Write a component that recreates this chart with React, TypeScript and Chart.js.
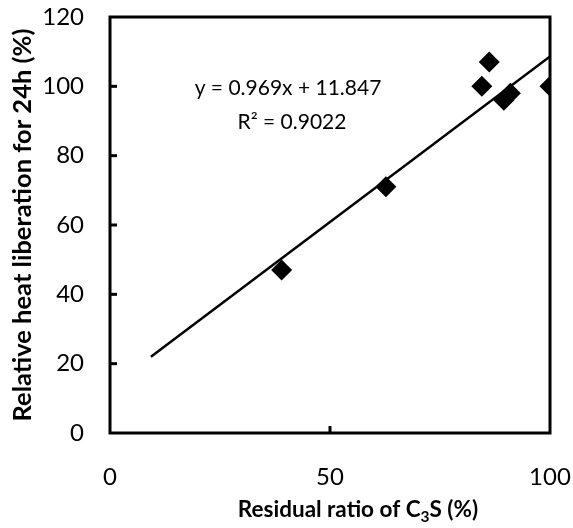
import React, { useEffect, useRef } from "react";
import { Chart, registerables } from "chart.js";

Chart.register(...registerables);

const residualC3S = [39, 62.7, 84.5, 86.2, 89.5, 91, 100];
const relativeHeat = [47, 71, 100, 107, 96, 98, 100];
const trendX = [9.3, 100];
const trendY = [22, 108.6];
const yTicks = [0, 20, 40, 60, 80, 100, 120];
const xTicks = [0, 50, 100];
const equationText = "y = 0.969x + 11.847";
const r2Text = "R² = 0.9022";
const yTitle = "Relative heat liberation for 24h (%)";
const xTitleParts = ["Residual ratio of C", "3", "S (%)"];

const FONT = "Lato";

const zeroPad = (s: any) => {
  s.paddingTop = 0;
  s.paddingBottom = 0;
  s.paddingLeft = 0;
  s.paddingRight = 0;
};

const framePlugin = {
  id: "frame",
  afterDatasetsDraw(chart: any) {
    const { ctx, chartArea: a, scales } = chart;
    ctx.save();
    ctx.strokeStyle = "#000";
    ctx.lineWidth = 3;
    ctx.strokeRect(a.left, a.top, a.right - a.left, a.bottom - a.top);
    yTicks.forEach((v) => {
      if (v === 0 || v === 120) return;
      const y = scales.y.getPixelForValue(v);
      ctx.beginPath();
      ctx.moveTo(a.left, y);
      ctx.lineTo(a.left + 7, y);
      ctx.stroke();
    });
    xTicks.forEach((v) => {
      if (v === 0 || v === 100) return;
      const x = scales.x.getPixelForValue(v);
      ctx.beginPath();
      ctx.moveTo(x, a.bottom);
      ctx.lineTo(x, a.bottom - 7);
      ctx.stroke();
    });
    ctx.fillStyle = "#000";
    ctx.font = `21px ${FONT}`;
    ctx.textAlign = "center";
    ctx.textBaseline = "middle";
    ctx.fillText(equationText, 288, 88);
    ctx.fillText(r2Text, 292, 122);
    // x title with subscript
    const big = `bold 22.5px ${FONT}`;
    const small = `bold 15.5px ${FONT}`;
    ctx.font = big;
    const w1 = ctx.measureText(xTitleParts[0]).width;
    const w2 = ctx.measureText(xTitleParts[2]).width;
    ctx.font = small;
    const ws = ctx.measureText(xTitleParts[1]).width;
    let x = 358 - (w1 + ws + w2) / 2;
    const yb = 510;
    ctx.textAlign = "left";
    ctx.font = big;
    ctx.fillText(xTitleParts[0], x, yb);
    x += w1;
    ctx.font = small;
    ctx.fillText(xTitleParts[1], x, yb + 7);
    x += ws;
    ctx.font = big;
    ctx.fillText(xTitleParts[2], x, yb);
    ctx.restore();
  },
};

export default function App() {
  const ref = useRef<HTMLCanvasElement>(null);
  useEffect(() => {
    if (!ref.current) return;
    const chart = new Chart(ref.current, {
      type: "scatter",
      data: {
        datasets: [
          {
            label: "data",
            data: residualC3S.map((x, i) => ({ x, y: relativeHeat[i] })),
            pointStyle: "rectRot",
            pointRadius: 10.5,
            backgroundColor: "#000",
            borderColor: "#000",
            borderWidth: 0,
          },
          {
            label: "trend",
            type: "line",
            data: trendX.map((x, i) => ({ x, y: trendY[i] })),
            borderColor: "#000",
            borderWidth: 2.5,
            pointRadius: 0,
            fill: false,
          } as any,
        ],
      },
      options: {
        animation: false,
        responsive: false,
        layout: { padding: { top: 17, right: 23, left: 0, bottom: 0 } },
        plugins: {
          legend: { display: false },
          tooltip: { enabled: false },
        },
        scales: {
          x: {
            type: "linear",
            min: 0,
            max: 100,
            afterBuildTicks: (s: any) => {
              s.ticks = xTicks.map((v) => ({ value: v }));
            },
            afterFit: (s: any) => {
              s.height = 95;
              zeroPad(s);
            },
            grid: { display: false, drawTicks: false },
            border: { display: false },
            ticks: {
              padding: 30,
              color: "#000",
              maxRotation: 0,
              font: { family: FONT, size: 24 },
            },
          },
          y: {
            type: "linear",
            min: 0,
            max: 120,
            afterBuildTicks: (s: any) => {
              s.ticks = yTicks.map((v) => ({ value: v }));
            },
            afterFit: (s: any) => {
              s.width = 110;
              zeroPad(s);
            },
            grid: { display: false, drawTicks: false },
            border: { display: false },
            ticks: {
              padding: 26,
              color: "#000",
              font: { family: FONT, size: 24 },
            },
            title: {
              display: true,
              text: yTitle,
              color: "#000",
              font: { family: FONT, size: 25.5, weight: "bold" },
              padding: { top: 7, bottom: 0 },
            },
          },
        },
      },
      plugins: [framePlugin],
    });
    return () => chart.destroy();
  }, []);
  return (
    <div style={{ position: "absolute", left: 0, top: 0, width: 573, height: 528, background: "#fff" }}>
      <canvas ref={ref} width={573} height={528} style={{ width: 573, height: 528 }} />
    </div>
  );
}
